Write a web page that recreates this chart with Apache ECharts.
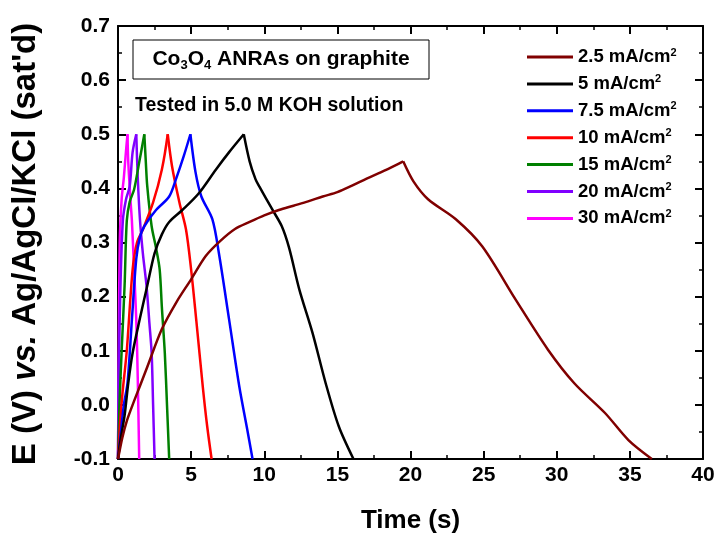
<!DOCTYPE html>
<html><head><meta charset="utf-8">
<script src="https://cdn.jsdelivr.net/npm/echarts@6/dist/echarts.min.js"></script>
<style>html,body{margin:0;padding:0;background:#fff}#c{width:721px;height:540px}</style>
</head><body><div id="c"></div>
<script>
// Series names and colours
const seriesNames = ['2.5 mA/cm2', '5 mA/cm2', '7.5 mA/cm2', '10 mA/cm2', '15 mA/cm2', '20 mA/cm2', '30 mA/cm2'];
const seriesColors = ['#800000', '#000000', '#0000ff', '#ff0000', '#008000', '#8000ff', '#ff00ff'];

// [time (s), E (V)] — charge branches
const charge25 = [[0,-0.1],[0.3,-0.06],[0.6,-0.03],[1.0,0.0],[1.5,0.035],[2,0.07],[3,0.14],[4,0.19],[5,0.232],[6,0.275],[7,0.303],[8,0.325],[9,0.338],[10,0.35],[11,0.36],[12,0.368],[13,0.376],[14,0.385],[15,0.393],[16,0.405],[17,0.418],[18,0.43],[19,0.443],[19.5,0.45]];
const charge5 = [[0,-0.1],[0.2,-0.06],[0.45,-0.02],[0.7,0.04],[1.0,0.096],[1.5,0.16],[2,0.22],[2.5,0.28],[3,0.315],[3.5,0.338],[4.4,0.36],[5.5,0.39],[6.7,0.435],[7.6,0.467],[8.6,0.5]];
const charge75 = [[0,-0.1],[0.2,-0.05],[0.4,0.0],[0.65,0.04],[0.95,0.157],[1.25,0.27],[1.5,0.31],[1.8,0.33],[2.6,0.36],[3.5,0.385],[4.0,0.42],[4.5,0.46],[4.95,0.5]];
const charge10 = [[0,-0.1],[0.15,-0.03],[0.3,0.02],[0.6,0.1],[1.0,0.25],[1.3,0.3],[1.7,0.324],[2.4,0.374],[3.0,0.435],[3.4,0.5]];
const charge15 = [[0,-0.1],[0.1,0.0],[0.25,0.1],[0.45,0.22],[0.6,0.34],[0.8,0.375],[1.1,0.398],[1.45,0.448],[1.8,0.5]];
const charge20 = [[0,-0.1],[0.05,0.05],[0.15,0.2],[0.33,0.34],[0.55,0.38],[0.8,0.404],[1.0,0.467],[1.25,0.5]];
const charge30 = [[0,-0.1],[0.05,0.1],[0.12,0.3],[0.25,0.38],[0.4,0.42],[0.55,0.47],[0.65,0.5]];

// discharge branches
const discharge25 = [[19.5,0.45],[20.2,0.413],[21.2,0.38],[23.1,0.343],[24.9,0.293],[27.2,0.194],[29.4,0.102],[31.2,0.04],[33.3,-0.015],[34.9,-0.065],[36.5,-0.1]];
const discharge5 = [[8.6,0.5],[9.0,0.45],[9.4,0.417],[9.65,0.404],[10.55,0.361],[11.2,0.33],[11.7,0.29],[12.4,0.213],[13.3,0.133],[14.2,0.04],[15.1,-0.04],[16.1,-0.1]];
const discharge75 = [[4.95,0.5],[5.3,0.43],[5.7,0.385],[6.45,0.343],[6.9,0.28],[7.6,0.157],[8.3,0.033],[8.8,-0.04],[9.2,-0.1]];
const discharge10 = [[3.4,0.5],[3.7,0.44],[4.2,0.374],[4.65,0.324],[5.0,0.25],[5.35,0.157],[5.8,0.033],[6.1,-0.04],[6.4,-0.1]];
const discharge15 = [[1.8,0.5],[1.9,0.45],[2.0,0.404],[2.3,0.33],[2.6,0.29],[2.85,0.25],[3.0,0.18],[3.2,0.096],[3.35,0.0],[3.5,-0.1]];
const discharge20 = [[1.25,0.5],[1.35,0.42],[1.5,0.343],[1.7,0.28],[1.95,0.22],[2.15,0.15],[2.3,0.096],[2.4,0.0],[2.5,-0.1]];
const discharge30 = [[0.65,0.5],[0.7,0.45],[0.85,0.38],[0.95,0.34],[1.1,0.25],[1.25,0.157],[1.35,0.05],[1.45,-0.1]];

const chargeSets = [charge25, charge5, charge75, charge10, charge15, charge20, charge30];
const dischargeSets = [discharge25, discharge5, discharge75, discharge10, discharge15, discharge20, discharge30];

const FONT = 'Liberation Sans, Arial, sans-serif';
const series = [];
seriesNames.forEach((n, i) => {
  [chargeSets[i], dischargeSets[i]].forEach(d => {
    series.push({
      name: n, type: 'line', data: d, showSymbol: false, symbol: 'none',
      smooth: 0.3,
      lineStyle: { color: seriesColors[i], width: 2.5 },
      itemStyle: { color: seriesColors[i] },
      z: 10 - i, xAxisIndex: 0, yAxisIndex: 0
    });
  });
});

const axisCommonX = {
  type: 'value', min: 0, max: 40, interval: 5,
  axisLine: { show: true, onZero: false, lineStyle: { color: '#000', width: 2 } },
  axisTick: { show: true, inside: true, length: 8, lineStyle: { color: '#000', width: 2 } },
  minorTick: { show: true, splitNumber: 2, length: 4, lineStyle: { color: '#000', width: 1.5 } },
  splitLine: { show: false }
};
const axisCommonY = {
  type: 'value', min: -0.1, max: 0.7, interval: 0.1,
  axisLine: { show: true, onZero: false, lineStyle: { color: '#000', width: 2 } },
  axisTick: { show: true, inside: true, length: 8, lineStyle: { color: '#000', width: 2 } },
  minorTick: { show: true, splitNumber: 2, length: 4, lineStyle: { color: '#000', width: 1.5 } },
  splitLine: { show: false }
};

const chart = echarts.init(document.getElementById('c'), null, { renderer: 'canvas' });
chart.setOption({
  animation: false,
  backgroundColor: '#fff',
  grid: { left: 118, right: 18, top: 26, bottom: 81 },
  xAxis: [
    Object.assign({}, axisCommonX, {
      position: 'bottom',
      name: 'Time (s)', nameLocation: 'middle', nameGap: 49,
      nameTextStyle: { fontFamily: FONT, fontWeight: 'bold', fontSize: 26, color: '#000' },
      axisLabel: { fontFamily: FONT, fontWeight: 'bold', fontSize: 21, color: '#000', margin: 6 }
    }),
    Object.assign({}, axisCommonX, { position: 'top', axisLabel: { show: false } })
  ],
  yAxis: [
    Object.assign({}, axisCommonY, {
      position: 'left',
      axisLabel: { fontFamily: FONT, fontWeight: 'bold', fontSize: 21, color: '#000', margin: 8,
        formatter: v => v.toFixed(1) }
    }),
    Object.assign({}, axisCommonY, { position: 'right', axisLabel: { show: false } })
  ],
  legend: {
    data: seriesNames, orient: 'vertical', left: 527, top: 47, padding: 0,
    icon: 'rect', itemWidth: 46, itemHeight: 3, itemGap: 7.4,
    formatter: n => '{t|' + n.slice(0, -1) + '}{s|2}',
    textStyle: {
      rich: {
        t: { fontFamily: FONT, fontWeight: 'bold', fontSize: 18.5, color: '#000', lineHeight: 20 },
        s: { fontFamily: FONT, fontWeight: 'bold', fontSize: 11, color: '#000', verticalAlign: 'top', lineHeight: 20, padding: [0, 0, 7, 0] }
      }
    }
  },
  graphic: [
    { type: 'text', x: 26, y: 244, rotation: Math.PI / 2, z: 101,
      style: { text: '{b|E (V) }{i|vs.}{b| Ag/AgCl/KCl (sat\'d)}', align: 'center', verticalAlign: 'middle',
        rich: {
          b: { fontFamily: FONT, fontWeight: 'bold', fontSize: 33, fill: '#000' },
          i: { fontFamily: FONT, fontWeight: 'bold', fontStyle: 'italic', fontSize: 33, fill: '#000' }
        } } },
    { type: 'rect', shape: { x: 133, y: 40, width: 296, height: 39 }, style: { fill: '#fff', stroke: '#000', lineWidth: 1 }, z: 100 },
    { type: 'text', x: 281, y: 59, z: 101,
      style: { text: '{a|Co}{s|3}{a|O}{s|4}{a| ANRAs on graphite}', align: 'center', verticalAlign: 'middle',
        rich: {
          a: { fontFamily: FONT, fontWeight: 'bold', fontSize: 21, fill: '#000', lineHeight: 24 },
          s: { fontFamily: FONT, fontWeight: 'bold', fontSize: 13, fill: '#000', lineHeight: 24, padding: [12, 0, 0, 0] }
        } } },
    { type: 'text', x: 135, y: 106, z: 101,
      style: { text: 'Tested in 5.0 M KOH solution', align: 'left', verticalAlign: 'middle',
        font: 'bold 19.5px ' + FONT, fill: '#000' } }
  ],
  series: series
});
</script></body></html>
